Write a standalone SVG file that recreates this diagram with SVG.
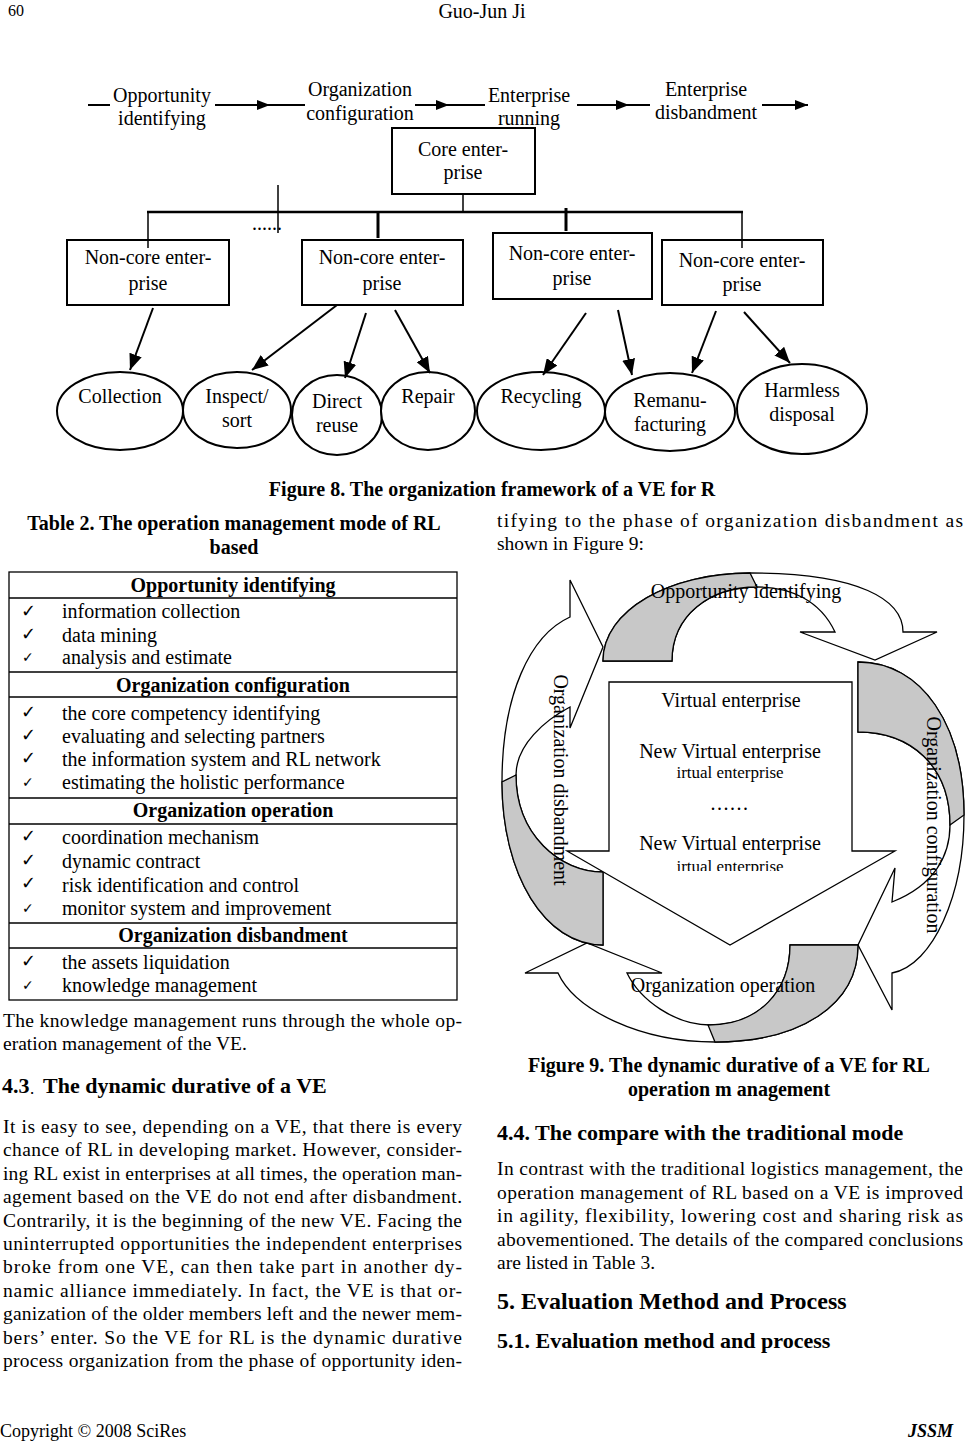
<svg xmlns="http://www.w3.org/2000/svg" width="965" height="1443" viewBox="0 0 965 1443">
<style>
text{font-family:"Liberation Serif","Times New Roman",serif;fill:#000}
.f20{font-size:20px}
.b{font-weight:bold}
.m{text-anchor:middle}
.bd{font-size:19.5px}
.box{fill:#fff;stroke:#000;stroke-width:2}
.ell{fill:#fff;stroke:#000;stroke-width:2}
.ln{stroke:#000;stroke-width:2;fill:none}
.ck{font-family:"DejaVu Sans",sans-serif;font-size:18px;font-weight:bold}
.cks{font-family:"DejaVu Sans",sans-serif;font-size:14px}
.wb{fill:#fff;stroke:#000;stroke-width:1.3;stroke-linejoin:miter}
.gb{fill:#c8c8c8;stroke:#000;stroke-width:1.3}
.tb{stroke:#000;stroke-width:1.3;fill:none}
</style>
<defs>
<marker id="ah" viewBox="0 0 13 10" refX="13" refY="5" markerWidth="13" markerHeight="10" markerUnits="userSpaceOnUse" orient="auto"><path d="M0,0 L13,5 L0,10 z" fill="#000"/></marker>
<marker id="ah2" viewBox="0 0 16 13" refX="16" refY="6.5" markerWidth="16" markerHeight="13" markerUnits="userSpaceOnUse" orient="auto"><path d="M0,0 L16,6.5 L0,13 z" fill="#000"/></marker>
<clipPath id="clipIrt"><rect x="600" y="854" width="260" height="17"/></clipPath>
</defs>
<rect width="965" height="1443" fill="#fff"/>

<!-- header / footer -->
<text x="8" y="16" style="font-size:16px">60</text>
<text x="482" y="18" class="m" style="font-size:20px">Guo-Jun Ji</text>
<text x="0" y="1437" style="font-size:18px">Copyright © 2008 SciRes</text>
<text x="953" y="1437" style="font-size:18px;font-weight:bold;font-style:italic;text-anchor:end">JSSM</text>

<!-- Figure 8 -->
<g id="fig8">
<g id="phase-labels" class="f20">
<text x="162" y="102" class="m">Opportunity</text>
<text x="162" y="125" class="m">identifying</text>
<text x="360" y="96" class="m">Organization</text>
<text x="360" y="120" class="m">configuration</text>
<text x="529" y="102" class="m">Enterprise</text>
<text x="529" y="125" class="m">running</text>
<text x="706" y="96" class="m">Enterprise</text>
<text x="706" y="119" class="m">disbandment</text>
</g>
<g id="core"><rect class="box" x="392" y="128" width="143" height="66"/>
<text class="f20 m" x="463" y="156">Core enter-</text><text class="f20 m" x="463" y="179">prise</text></g>
<g id="nc1"><rect class="box" x="67" y="240" width="162" height="65"/>
<text class="f20 m" x="148" y="264">Non-core enter-</text><text class="f20 m" x="148" y="290">prise</text></g>
<g id="nc2"><rect class="box" x="302" y="240" width="161" height="65"/>
<text class="f20 m" x="382" y="264">Non-core enter-</text><text class="f20 m" x="382" y="290">prise</text></g>
<g id="nc3"><rect class="box" x="493" y="233" width="159" height="66"/>
<text class="f20 m" x="572" y="260">Non-core enter-</text><text class="f20 m" x="572" y="285">prise</text></g>
<g id="nc4"><rect class="box" x="662" y="240" width="161" height="65"/>
<text class="f20 m" x="742" y="267">Non-core enter-</text><text class="f20 m" x="742" y="291">prise</text></g>
<g id="collection"><ellipse class="ell" cx="120" cy="411" rx="63" ry="39"/><text class="f20 m" x="120" y="403">Collection</text></g>
<g id="inspect"><ellipse class="ell" cx="237" cy="410" rx="54" ry="38"/><text class="f20 m" x="237" y="403">Inspect/</text><text class="f20 m" x="237" y="427">sort</text></g>
<g id="reuse"><ellipse class="ell" cx="337" cy="415" rx="45" ry="40"/><text class="f20 m" x="337" y="408">Direct</text><text class="f20 m" x="337" y="432">reuse</text></g>
<g id="repair"><ellipse class="ell" cx="428" cy="411" rx="47" ry="39"/><text class="f20 m" x="428" y="403">Repair</text></g>
<g id="recycling"><ellipse class="ell" cx="541" cy="411" rx="64" ry="39"/><text class="f20 m" x="541" y="403">Recycling</text></g>
<g id="reman"><ellipse class="ell" cx="670" cy="412" rx="65" ry="39"/><text class="f20 m" x="670" y="407">Remanu-</text><text class="f20 m" x="670" y="431">facturing</text></g>
<g id="harmless"><ellipse class="ell" cx="802" cy="409" rx="65" ry="45"/><text class="f20 m" x="802" y="397">Harmless</text><text class="f20 m" x="802" y="421">disposal</text></g>
<text class="f20" x="252" y="230">......</text>
<g id="fig8-connectors" class="ln">
<line x1="88" y1="105" x2="110" y2="105"/>
<line x1="215" y1="105" x2="270" y2="105" marker-end="url(#ah)"/><line x1="268" y1="105" x2="305" y2="105"/>
<line x1="415" y1="105" x2="449" y2="105" marker-end="url(#ah)"/><line x1="447" y1="105" x2="485" y2="105"/>
<line x1="577" y1="105" x2="629" y2="105" marker-end="url(#ah)"/><line x1="627" y1="105" x2="650" y2="105"/>
<line x1="762" y1="105" x2="808" y2="105" marker-end="url(#ah)"/>
<line x1="463" y1="194" x2="463" y2="212" stroke-width="1.5"/>
<line x1="147" y1="212" x2="743" y2="212" stroke-width="2.5"/>
<line x1="148" y1="212" x2="148" y2="248" stroke-width="1.5"/>
<line x1="378" y1="212" x2="378" y2="238" stroke-width="3"/>
<line x1="566" y1="208" x2="566" y2="231" stroke-width="3"/>
<line x1="742" y1="212" x2="742" y2="248" stroke-width="1.5"/>
<line x1="278" y1="185" x2="278" y2="233" stroke-width="1.5"/>
<line x1="153" y1="308" x2="130" y2="370" marker-end="url(#ah2)"/>
<line x1="337" y1="305" x2="252" y2="370" marker-end="url(#ah2)"/>
<line x1="366" y1="313" x2="345" y2="378" marker-end="url(#ah2)"/>
<line x1="395" y1="310" x2="430" y2="373" marker-end="url(#ah2)"/>
<line x1="586" y1="313" x2="543" y2="375" marker-end="url(#ah2)"/>
<line x1="618" y1="310" x2="632" y2="375" marker-end="url(#ah2)"/>
<line x1="716" y1="311" x2="692" y2="373" marker-end="url(#ah2)"/>
<line x1="744" y1="312" x2="790" y2="363" marker-end="url(#ah2)"/>
</g>
</g>
<text class="f20 b m" x="492" y="496">Figure 8. The organization framework of a VE for R</text>

<!-- Table 2 -->
<text class="f20 b m" x="234" y="530">Table 2. The operation management mode of RL</text>
<text class="f20 b m" x="234" y="554">based</text>
<g id="table2">
<rect class="tb" x="9" y="572" width="448" height="428"/>
<line class="tb" x1="9" y1="598" x2="457" y2="598"/>
<line class="tb" x1="9" y1="672" x2="457" y2="672"/>
<line class="tb" x1="9" y1="697" x2="457" y2="697"/>
<line class="tb" x1="9" y1="798" x2="457" y2="798"/>
<line class="tb" x1="9" y1="824" x2="457" y2="824"/>
<line class="tb" x1="9" y1="923" x2="457" y2="923"/>
<line class="tb" x1="9" y1="948" x2="457" y2="948"/>
<text class="f20 b m" x="233" y="592">Opportunity identifying</text>
<text class="f20 b m" x="233" y="692">Organization configuration</text>
<text class="f20 b m" x="233" y="817">Organization operation</text>
<text class="f20 b m" x="233" y="942">Organization disbandment</text>
<g class="f20">
<text x="62" y="618">information collection</text>
<text x="62" y="642">data mining</text>
<text x="62" y="664">analysis and estimate</text>
<text x="62" y="720">the core competency identifying</text>
<text x="62" y="743">evaluating and selecting partners</text>
<text x="62" y="766">the information system and RL network</text>
<text x="62" y="789">estimating the holistic performance</text>
<text x="62" y="844">coordination mechanism</text>
<text x="62" y="868">dynamic contract</text>
<text x="62" y="892">risk identification and control</text>
<text x="62" y="915">monitor system and improvement</text>
<text x="62" y="969">the assets liquidation</text>
<text x="62" y="992">knowledge management</text>
</g>
<text class="ck" x="21" y="617">✓</text>
<text class="ck" x="21" y="640">✓</text>
<text class="cks" x="22" y="662">✓</text>
<text class="ck" x="21" y="718">✓</text>
<text class="ck" x="21" y="741">✓</text>
<text class="ck" x="21" y="764">✓</text>
<text class="cks" x="22" y="787">✓</text>
<text class="ck" x="21" y="842">✓</text>
<text class="ck" x="21" y="866">✓</text>
<text class="ck" x="21" y="889">✓</text>
<text class="cks" x="22" y="913">✓</text>
<text class="ck" x="21" y="967">✓</text>
<text class="cks" x="22" y="990">✓</text>
</g>

<!-- left column body -->
<g id="left-body" class="bd">
<text x="3" y="1027" textLength="459" lengthAdjust="spacing">The knowledge management runs through the whole op-</text>
<text x="3" y="1050">eration management of the VE.</text>
<text x="2" y="1093" class="b" style="font-size:22px">4.3</text>
<text x="29" y="1093" style="font-family:'Noto Sans CJK SC',sans-serif;font-size:13px">．</text>
<text x="43" y="1093" class="b" style="font-size:22px">The dynamic durative of a VE</text>
<text x="3" y="1133" textLength="459" lengthAdjust="spacing">It is easy to see, depending on a VE, that there is every</text>
<text x="3" y="1156" textLength="459" lengthAdjust="spacing">chance of RL in developing market. However, consider-</text>
<text x="3" y="1180" textLength="459" lengthAdjust="spacing">ing RL exist in enterprises at all times, the operation man-</text>
<text x="3" y="1203" textLength="459" lengthAdjust="spacing">agement based on the VE do not end after disbandment.</text>
<text x="3" y="1227" textLength="459" lengthAdjust="spacing">Contrarily, it is the beginning of the new VE. Facing the</text>
<text x="3" y="1250" textLength="459" lengthAdjust="spacing">uninterrupted opportunities the independent enterprises</text>
<text x="3" y="1273" textLength="459" lengthAdjust="spacing">broke from one VE, can then take part in another dy-</text>
<text x="3" y="1297" textLength="459" lengthAdjust="spacing">namic alliance immediately. In fact, the VE is that or-</text>
<text x="3" y="1320" textLength="459" lengthAdjust="spacing">ganization of the older members left and the newer mem-</text>
<text x="3" y="1344" textLength="459" lengthAdjust="spacing">bers’ enter. So the VE for RL is the dynamic durative</text>
<text x="3" y="1367" textLength="459" lengthAdjust="spacing">process organization from the phase of opportunity iden-</text>
</g>

<!-- right column body -->
<g id="right-body" class="bd">
<text x="497" y="527" textLength="466" lengthAdjust="spacing">tifying to the phase of organization disbandment as</text>
<text x="497" y="550">shown in Figure 9:</text>
<text x="497" y="1175" textLength="466" lengthAdjust="spacing">In contrast with the traditional logistics management, the</text>
<text x="497" y="1199" textLength="466" lengthAdjust="spacing">operation management of RL based on a VE is improved</text>
<text x="497" y="1222" textLength="466" lengthAdjust="spacing">in agility, flexibility, lowering cost and sharing risk as</text>
<text x="497" y="1246" textLength="466" lengthAdjust="spacing">abovementioned. The details of the compared conclusions</text>
<text x="497" y="1269">are listed in Table 3.</text>
</g>
<text class="f20 b m" x="729" y="1072">Figure 9. The dynamic durative of a VE for RL</text>
<text class="f20 b m" x="729" y="1096">operation m anagement</text>
<text class="b" x="497" y="1140" style="font-size:22px">4.4. The compare with the traditional mode</text>
<text class="b" x="497" y="1309" style="font-size:24px">5. Evaluation Method and Process</text>
<text class="b" x="497" y="1348" style="font-size:22px">5.1. Evaluation method and process</text>

<!-- Figure 9 -->
<g id="fig9">
<g id="arrow-top">
<path class="wb" d="M603,661 C603,610 670,573 750,573 C860,573 903,600 903,632 L937,632 L875,660 L800,632 L835,632 C820,600 790,587 757,587 C710,587 672,615 672,661 Z"/>
<path class="gb" d="M603,661 C603,610 670,573 750,573 L757,587 C710,587 672,615 672,661 Z"/>
</g>
<g id="arrow-right">
<path class="wb" d="M858,662 C922,662 964,725 964,815 C964,895 933,965 892,973 L892,1010 L858,945 L895,868 L892,902 C935,885 950,855 950,825 C950,765 910,732 858,732 Z"/>
<path class="gb" d="M858,662 C922,662 964,725 964,815 L950,825 C950,765 910,732 858,732 Z"/>
</g>
<g id="arrow-bottom">
<path class="wb" d="M858,945 C858,1005 800,1042 715,1042 C640,1042 575,1010 558,973 L525,973 L587,943 L662,973 L627,973 C640,1000 675,1025 710,1025 C760,1025 790,990 790,945 Z"/>
<path class="gb" d="M858,945 C858,1005 800,1042 715,1042 L708,1025 C760,1025 790,990 790,945 Z"/>
</g>
<g id="arrow-left">
<path class="wb" d="M603,945 C545,945 502,875 502,782 C502,695 530,635 570,617 L570,580 L603,647 L570,728 L570,707 C545,720 516,745 516,775 C516,835 560,872 603,872 Z"/>
<path class="gb" d="M603,945 C545,945 502,875 502,782 L516,775 C516,835 560,872 603,872 Z"/>
</g>
<g id="ve-box">
<path class="wb" d="M609,682 L852,682 L852,851 L895,851 L730,945 L567,851 L609,851 Z"/>
<text class="f20 m" x="731" y="707">Virtual enterprise</text>
<text class="f20 m" x="730" y="758">New Virtual enterprise</text>
<text class="m" x="730" y="778" style="font-size:17px">irtual enterprise</text>
<text class="f20 m" x="730" y="810" style="letter-spacing:1.5px">......</text>
<text class="f20 m" x="730" y="850">New Virtual enterprise</text>
<text class="m" x="730" y="872" style="font-size:17px" clip-path="url(#clipIrt)">irtual enterprise</text>
</g>
<text class="f20 m" x="746" y="598">Opportunity identifying</text>
<text class="f20 m" x="723" y="992">Organization operation</text>
<text class="f20 m" transform="translate(554,780) rotate(90)">Organization disbandment</text>
<text class="f20 m" transform="translate(927,825) rotate(90)">Organization configuration</text>
</g>
</svg>
